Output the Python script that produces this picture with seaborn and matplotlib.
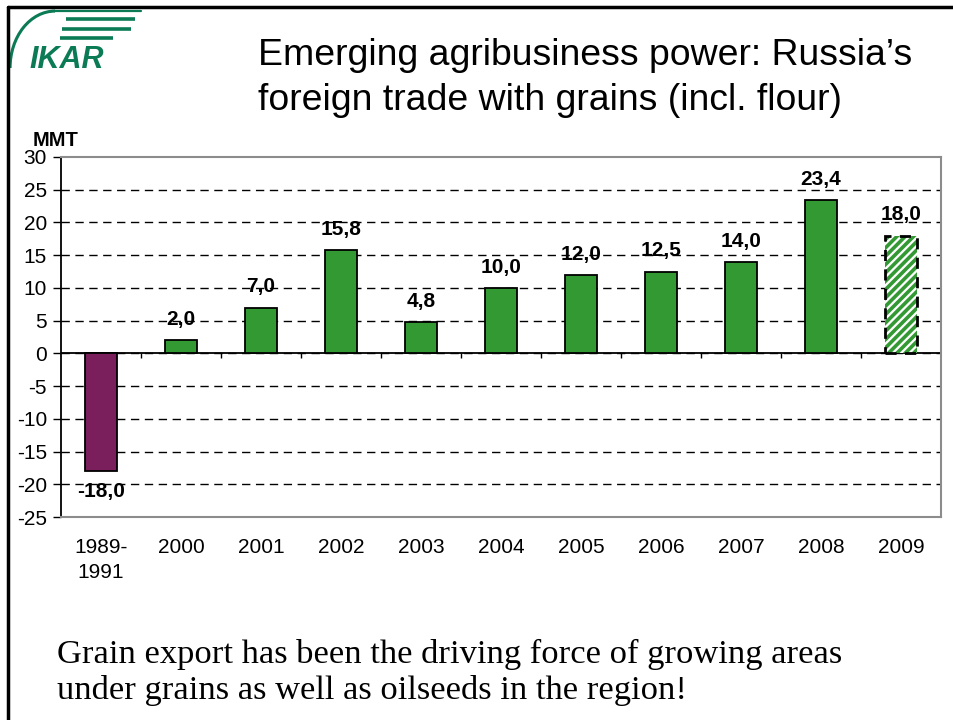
import matplotlib
matplotlib.use("Agg")
import matplotlib.pyplot as plt
from matplotlib.patches import Rectangle, Arc
from matplotlib.lines import Line2D
import seaborn as sns
import pandas as pd

# Russia's net grain trade (incl. flour), million metric tonnes
periods = ["1989-\n1991", "2000", "2001", "2002", "2003", "2004",
           "2005", "2006", "2007", "2008", "2009"]
net_trade = [-18.0, 2.0, 7.0, 15.8, 4.8, 10.0, 12.0, 12.5, 14.0, 23.4, 18.0]
y_ticks = [-25, -20, -15, -10, -5, 0, 5, 10, 15, 20, 25, 30]

GREEN = "#339933"
PURPLE = "#7B1F5C"
LOGO = "#0B7B55"

sns.set_theme(style="white")
plt.rcParams["font.family"] = ["Liberation Sans", "DejaVu Sans"]
plt.rcParams["axes.unicode_minus"] = False
plt.rcParams["hatch.linewidth"] = 2.6

fig = plt.figure(figsize=(9.54, 7.2), dpi=100)
ax = fig.add_axes([0.0639, 0.2819, 0.9225, 0.5001])

df = pd.DataFrame({"period": periods, "value": net_trade})
colors = [PURPLE if v < 0 else GREEN for v in net_trade]
sns.barplot(data=df, x="period", y="value", hue="period", palette=colors,
            legend=False, width=0.41, edgecolor="black", linewidth=1.3,
            saturation=1, ax=ax, zorder=3)

ax.set_xlim(-0.5, len(periods) - 0.5)
ax.set_ylim(-25, 30)
ax.set_yticks(y_ticks)
ax.set_xlabel("")
ax.set_ylabel("")

# dashed grid between the solid frame lines
ax.yaxis.grid(True, color="black", linestyle=(0, (6, 4)), linewidth=1.0)
ax.set_axisbelow(True)
for gl, t in zip(ax.get_ygridlines(), y_ticks):
    if t in (-25, 30):
        gl.set_visible(False)

for side in ("top", "right", "bottom"):
    ax.spines[side].set_color("#8c8c8c")
    ax.spines[side].set_linewidth(1.5)
ax.spines["left"].set_color("black")
ax.spines["left"].set_linewidth(1.3)

ax.tick_params(axis="y", which="major", length=6, width=1, color="black",
               direction="out", left=True, labelsize=15, pad=4,
               labelcolor="black")
ax.tick_params(axis="x", length=0, labelsize=15, pad=15, labelcolor="black")
for lbl in ax.get_xticklabels():
    lbl.set_linespacing(1.4)

# zero line with category separators
ax.axhline(0, color="black", linewidth=1.3, zorder=2)
for i in range(len(periods) - 1):
    ax.plot([i + 0.5, i + 0.5], [0, -0.75], color="black", linewidth=1,
            zorder=2, solid_capstyle="butt")

# 2009 is an estimate: hatched bar with dashed outline
est = ax.patches[len(periods) - 1]
est.set_facecolor("white")
est.set_edgecolor(GREEN)
est.set_hatch("////")
est.set_linewidth(0)
ax.add_patch(Rectangle((est.get_x(), est.get_y()), est.get_width(),
                       est.get_height(), fill=False, edgecolor="black",
                       linewidth=2, linestyle=(0, (4, 3)), zorder=4))

# value labels
for p, v in zip(ax.patches[:len(periods)], net_trade):
    txt = f"{v:.1f}".replace(".", ",")
    x = p.get_x() + p.get_width() / 2
    off = 8 if v >= 0 else -8
    ax.annotate(txt, (x, v), xytext=(0, off), textcoords="offset points",
                ha="center", va="bottom" if v >= 0 else "top",
                fontsize=15, fontweight="bold", color="black", zorder=5)

fig.text(0.0346, 0.791, "MMT", fontsize=14.5, fontweight="bold", ha="left",
         va="bottom", color="black")

# slide title
fig.text(0.2704, 0.9225, "Emerging agribusiness power: Russia\u2019s",
         fontsize=26.9, ha="left", va="center", color="black")
fig.text(0.2704, 0.8605, "foreign trade with grains (incl. flour)",
         fontsize=26.9, ha="left", va="center", color="black")

# footnote
fig.text(0.0597, 0.066,
         "Grain export has been the driving force of growing areas\n"
         "under grains as well as oilseeds in the region!",
         fontsize=24.8, family=["Liberation Serif", "DejaVu Serif"],
         ha="left", va="center", linespacing=1.2, color="black")

# slide frame
fig.add_artist(Line2D([0.0085, 0.0085], [0, 0.99], color="black",
                      linewidth=2.5, transform=fig.transFigure))
fig.add_artist(Line2D([0.0085, 1.0], [0.99, 0.99], color="black",
                      linewidth=2.5, transform=fig.transFigure))

# IKAR logo
fig.text(0.031, 0.917, "IKAR", fontsize=22, fontweight="bold", style="italic",
         color=LOGO, ha="left", va="center")
for x0, x1, y in [(0.069, 0.1415, 0.9736), (0.065, 0.1373, 0.9597),
                  (0.063, 0.1185, 0.947)]:
    fig.add_artist(Line2D([x0, x1], [y, y], color=LOGO, linewidth=2.6,
                          transform=fig.transFigure, solid_capstyle="butt"))
fig.add_artist(Line2D([0.057, 0.148], [0.9847, 0.9847], color=LOGO,
                      linewidth=1.6, transform=fig.transFigure))
arc = Arc((0.0577, 0.9056), 0.0943, 0.158, theta1=90, theta2=180, color=LOGO,
          linewidth=2.2, transform=fig.transFigure)
fig.add_artist(arc)

fig.savefig("out.png", dpi=100, facecolor="white")
